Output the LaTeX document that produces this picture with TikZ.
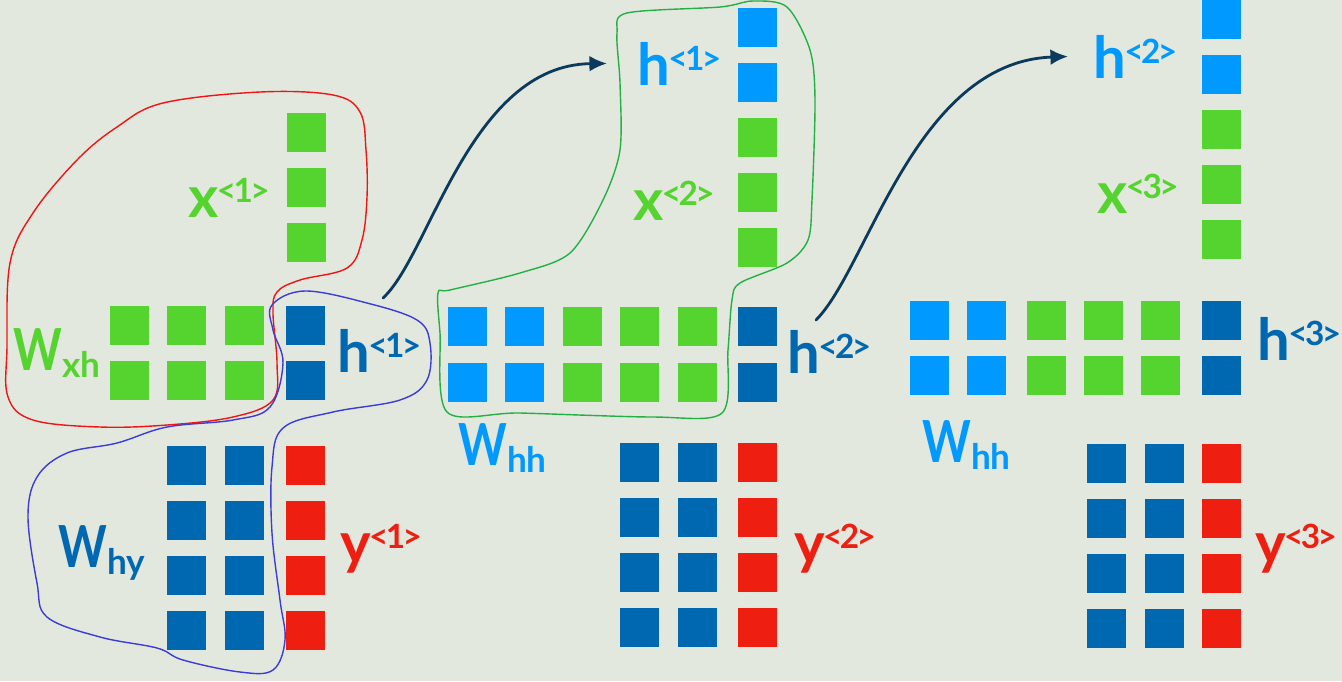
\documentclass[tikz,border=0pt]{standalone}
\usepackage{fontspec}
\setmainfont{Lato}
\usetikzlibrary{arrows.meta}
\definecolor{RNNBack}{HTML}{E3E8DF}
\definecolor{RNNGreen}{HTML}{55D42F}
\definecolor{RNNSky}{HTML}{0099FF}
\definecolor{RNNDeep}{HTML}{0068B0}
\definecolor{RNNRed}{HTML}{EE1F10}
\definecolor{RNNNavy}{HTML}{0B3A5C}
\definecolor{BlobRed}{HTML}{F01515}
\definecolor{BlobBlue}{HTML}{3C3CD6}
\definecolor{BlobGreen}{HTML}{25B045}

% time-step label x<1>, weight label W_xh
\newcommand{\seqlab}[2]{#1\raisebox{8pt}{\fontsize{19}{19}\selectfont\bfseries \kern-1pt<\kern-1.5pt#2\kern-1.5pt>}}
\newcommand{\wlab}[2]{\scalebox{0.8}[1]{#1}\raisebox{-4pt}{\fontsize{20}{20}\selectfont\bfseries #2}}

\begin{document}
\begin{tikzpicture}[x=0.02cm,y=-0.02cm,line cap=round,
  cell/.style={minimum size=0.78cm,inner sep=0pt,fill=#1},
  lab/.style={anchor=base west,inner sep=0pt,text=#1,font=\fontsize{33}{33}\selectfont\bfseries},
  blob/.style={#1,line width=0.8pt},
  recur/.style={RNNNavy,line width=1.6pt,-{Latex[length=10pt,width=9pt]}}]

% Background (1 unit = 1 px of the 1342 x 681 frame)
\fill[RNNBack] (0,0) rectangle (1342,681);
\useasboundingbox (0,0) rectangle (1342,681);

% ---- STEP 1 ----
\foreach \y [count=\i] in {132.5,187.5,242.5}
  \node[cell=RNNGreen] (xa\i) at (306,\y) {};
\foreach \x [count=\j] in {129.5,186.5,244.5}
  \foreach \y [count=\i] in {325,380}
    \node[cell=RNNGreen] (wxh\i\j) at (\x,\y) {};
\foreach \y [count=\i] in {325,380}
  \node[cell=RNNDeep] (ha\i) at (305.5,\y) {};
\foreach \x [count=\j] in {186.5,244.5}
  \foreach \y [count=\i] in {465,520,575,630}
    \node[cell=RNNDeep] (why\i\j) at (\x,\y) {};
\foreach \y [count=\i] in {465,520,575,630}
  \node[cell=RNNRed] (ya\i) at (305.5,\y) {};

\node[lab=RNNGreen] (xalab) at (188,217) {\seqlab{x}{1}};
\node[lab=RNNGreen] (wxhlab) at (13,370) {\wlab{W}{xh}};
\node[lab=RNNDeep] (halab) at (337,372) {\seqlab{h}{1}};
\node[lab=RNNDeep] (whylab) at (58,567) {\wlab{W}{hy}};
\node[lab=RNNRed] (yalab) at (340,563) {\seqlab{y}{1}};

% ---- STEP 2 ----
\foreach \y [count=\i] in {27.5,82}
  \node[cell=RNNSky] (hpa\i) at (757.5,\y) {};
\foreach \y [count=\i] in {137,192,247}
  \node[cell=RNNGreen] (xb\i) at (757.5,\y) {};
\foreach \x/\c [count=\j] in {467/RNNSky,524/RNNSky,582/RNNGreen,639.5/RNNGreen,697/RNNGreen}
  \foreach \y [count=\i] in {326.5,382}
    \node[cell=\c] (whhb\i\j) at (\x,\y) {};
\foreach \y [count=\i] in {326.5,382}
  \node[cell=RNNDeep] (hb\i) at (757.5,\y) {};
\foreach \x/\c [count=\j] in {639.5/RNNDeep,697.5/RNNDeep,757.5/RNNRed}
  \foreach \y [count=\i] in {462.5,517.5,572.5,627.5}
    \node[cell=\c] (outb\i\j) at (\x,\y) {};

\node[lab=RNNSky] (hpalab) at (637,85) {\seqlab{h}{1}};
\node[lab=RNNGreen] (xblab) at (633,220) {\seqlab{x}{2}};
\node[lab=RNNDeep] (hblab) at (787,373) {\seqlab{h}{2}};
\node[lab=RNNSky] (whhblab) at (458,465) {\wlab{W}{hh}};
\node[lab=RNNRed] (yblab) at (794,563) {\seqlab{y}{2}};

% ---- STEP 3 ----
\foreach \y [count=\i] in {19.5,74.5}
  \node[cell=RNNSky] (hpb\i) at (1221.5,\y) {};
\foreach \y [count=\i] in {129.5,184.5,239.5}
  \node[cell=RNNGreen] (xc\i) at (1221.5,\y) {};
\foreach \x/\c [count=\j] in {929.5/RNNSky,986.5/RNNSky,1046.5/RNNGreen,1103.5/RNNGreen,1160.5/RNNGreen}
  \foreach \y [count=\i] in {320,375}
    \node[cell=\c] (whhc\i\j) at (\x,\y) {};
\foreach \y [count=\i] in {320,375}
  \node[cell=RNNDeep] (hc\i) at (1221.5,\y) {};
\foreach \x/\c [count=\j] in {1106.5/RNNDeep,1164.5/RNNDeep,1221.5/RNNRed}
  \foreach \y [count=\i] in {463.5,518.5,573.5,628.5}
    \node[cell=\c] (outc\i\j) at (\x,\y) {};

\node[lab=RNNSky] (hpblab) at (1093,78) {\seqlab{h}{2}};
\node[lab=RNNGreen] (xclab) at (1097,213) {\seqlab{x}{3}};
\node[lab=RNNDeep] (hclab) at (1257,360) {\seqlab{h}{3}};
\node[lab=RNNSky] (whhclab) at (922,462) {\wlab{W}{hh}};
\node[lab=RNNRed] (yclab) at (1255,563) {\seqlab{y}{3}};

% ---- RECURRENCE ----
\coordinate (reca) at (383,298);
\coordinate (recb) at (816,320);
\draw[recur] (reca) .. controls (430,255) and (470,65) .. ([xshift=-0.6cm]hpalab.west);
\draw[recur] (recb) .. controls (868,268) and (915,62) .. ([xshift=-0.5cm]hpblab.west);

% ---- HAND-DRAWN GROUPS ----
\draw[blob=BlobRed] plot[smooth cycle,tension=0.6] coordinates {
  (163,103) (260,92) (333,95) (360,112) (366,150) (367,197) (362,240)
  (347,268) (300,280) (277,292) (273,313) (277,363) (273,400) (233,417)
  (167,425) (100,427) (33,420) (8,397) (7,347) (10,263) (33,213) (77,160) (117,127)};
\draw[blob=BlobBlue] plot[smooth cycle,tension=0.6] coordinates {
  (305,291) (367,303) (417,320) (430,343) (427,380) (400,400) (333,412)
  (283,428) (272,467) (272,533) (280,600) (285,640) (273,670) (240,672)
  (183,660) (157,648) (100,637) (47,617) (37,583) (28,517) (37,477) (67,453)
  (117,443) (167,427) (233,420) (270,407) (283,363) (273,330) (272,305)};
\draw[blob=BlobGreen] plot[smooth cycle,tension=0.5] coordinates {
  (627,13) (720,7) (753,1) (787,7) (810,50) (815,100) (812,200) (808,240)
  (787,263) (740,283) (732,300) (728,350) (722,413) (653,417) (520,413)
  (447,412) (440,333) (438,293) (450,290) (520,273) (570,253) (603,200)
  (620,150) (620,83) (617,33)};

\end{tikzpicture}
\end{document}
